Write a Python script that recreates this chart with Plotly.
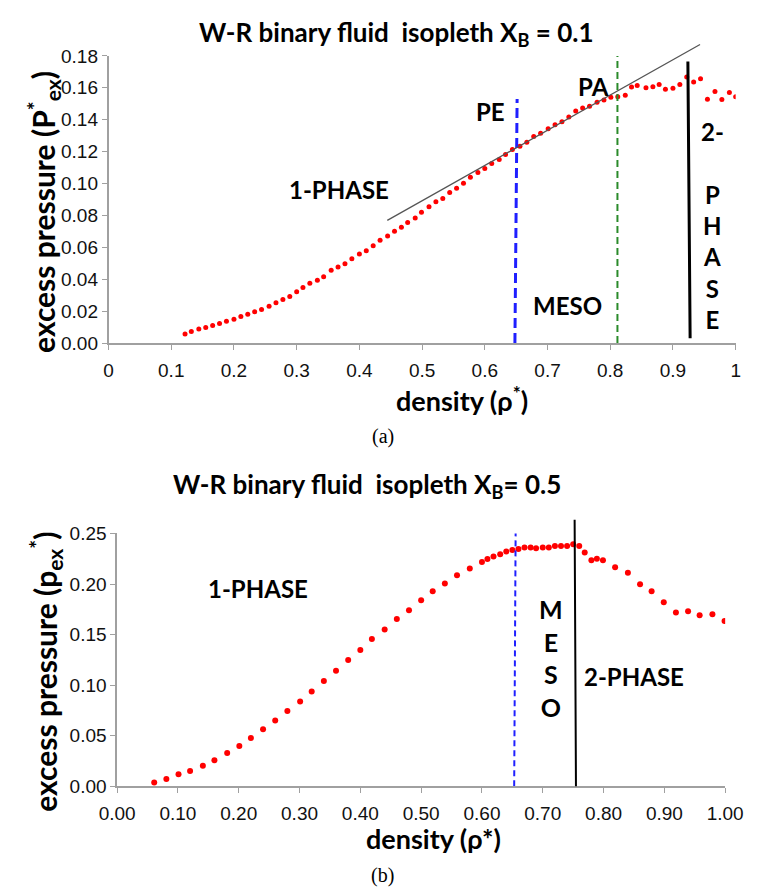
import plotly.graph_objects as go

# ---------------- data: panel (a) X_B = 0.1 ----------------
TOP_X = [0.122,0.132,0.144,0.155,0.166,0.177,0.188,0.200,0.211,0.222,
         0.233,0.244,0.256,0.267,0.278,0.289,0.300,0.310,0.321,0.333,
         0.343,0.355,0.366,0.377,0.388,0.400,0.411,0.422,0.433,0.445,
         0.456,0.467,0.477,0.489,0.499,0.511,0.522,0.533,0.544,0.555,
         0.566,0.577,0.589,0.600,0.611,0.623,0.633,0.644,0.656,0.667,
         0.678,0.689,0.701,0.712,0.723,0.734,0.745,0.756,0.767,0.779,
         0.790,0.801,0.812,0.824,0.834,0.843,0.857,0.868,0.878,0.888,
         0.900,0.911,0.922,0.933,0.944,0.955,0.967,0.978,0.990,1.000]
TOP_Y = [0.0057,0.0072,0.0088,0.0098,0.0109,0.0123,0.0137,0.0149,0.0166,0.0180,
         0.0196,0.0210,0.0231,0.0252,0.0272,0.0292,0.0321,0.0348,0.0374,0.0394,
         0.0415,0.0456,0.0477,0.0497,0.0528,0.0558,0.0579,0.0609,0.0644,0.0671,
         0.0701,0.0726,0.0756,0.0783,0.0820,0.0855,0.0885,0.0906,0.0943,0.0971,
         0.1002,0.1039,0.1069,0.1094,0.1125,0.1151,0.1182,0.1213,0.1233,0.1258,
         0.1294,0.1315,0.1344,0.1368,0.1387,0.1417,0.1454,0.1474,0.1485,0.1509,
         0.1523,0.1540,0.1544,0.1554,0.1605,0.1615,0.1601,0.1607,0.1621,0.1591,
         0.1597,0.1621,0.1667,0.1636,0.1656,0.1528,0.1577,0.1526,0.1570,0.1544]
TOP_FIT_X = [0.4445, 0.9456]
TOP_FIT_Y = [0.0769, 0.1877]
TOP_PE_X = [0.648, 0.6515]
TOP_PE_Y = [0.0, 0.153]
TOP_PA_X = [0.8115, 0.8115]
TOP_PA_Y = [0.0, 0.18]
TOP_2P_X = [0.9274, 0.9238]
TOP_2P_Y = [0.003, 0.1775]
TOP_XTICKS = [0, 0.1, 0.2, 0.3, 0.4, 0.5, 0.6, 0.7, 0.8, 0.9, 1]
TOP_YTICKS = [0, 0.02, 0.04, 0.06, 0.08, 0.10, 0.12, 0.14, 0.16, 0.18]

# ---------------- data: panel (b) X_B = 0.5 ----------------
BOT_X = [0.061,0.081,0.101,0.120,0.141,0.160,0.181,0.201,0.220,0.240,
         0.260,0.280,0.301,0.320,0.340,0.360,0.380,0.400,0.419,0.440,
         0.460,0.480,0.500,0.519,0.539,0.559,0.580,0.600,0.609,0.619,
         0.630,0.640,0.650,0.660,0.670,0.680,0.689,0.700,0.710,0.720,
         0.730,0.740,0.750,0.760,0.769,0.780,0.789,0.799,0.819,0.840,
         0.860,0.879,0.899,0.919,0.939,0.958,0.979,0.999]
BOT_Y = [0.0039,0.0074,0.0119,0.0152,0.0203,0.0258,0.0329,0.0400,0.0477,0.0564,
         0.0651,0.0745,0.0838,0.0938,0.1042,0.1144,0.1248,0.1347,0.1457,0.1550,
         0.1654,0.1741,0.1840,0.1928,0.2005,0.2086,0.2154,0.2218,0.2247,0.2273,
         0.2295,0.2321,0.2337,0.2347,0.2360,0.2360,0.2353,0.2360,0.2360,0.2376,
         0.2376,0.2376,0.2392,0.2376,0.2311,0.2234,0.2250,0.2234,0.2166,0.2111,
         0.1999,0.1928,0.1821,0.1718,0.1731,0.1692,0.1702,0.1634]
BOT_PE_X = [0.653, 0.6554]
BOT_PE_Y = [0.0, 0.2515]
BOT_2P_X = [0.7546, 0.7524]
BOT_2P_Y = [0.0, 0.265]
BOT_XTICKS = [0, 0.1, 0.2, 0.3, 0.4, 0.5, 0.6, 0.7, 0.8, 0.9, 1.0]
BOT_YTICKS = [0, 0.05, 0.10, 0.15, 0.20, 0.25]

W, H = 767, 896
LBL = "Lato"
TICKF = dict(family="Liberation Sans, Arial", size=19, color="#111")
AXC = "#a0a0a0"

def px_x(p):
    return p / W

def px_y(p):
    return 1 - p / H

fig = go.Figure()

# panel (a)
fig.add_trace(go.Scatter(x=TOP_X, y=TOP_Y, mode="markers", xaxis="x", yaxis="y",
                         marker=dict(color="#ff0000", size=5), showlegend=False))
fig.add_trace(go.Scatter(x=TOP_PE_X, y=TOP_PE_Y, mode="lines", xaxis="x", yaxis="y",
                         line=dict(color="#1f1fff", width=3, dash="10px,5px"), showlegend=False))
fig.add_trace(go.Scatter(x=TOP_PA_X, y=TOP_PA_Y, mode="lines", xaxis="x", yaxis="y",
                         line=dict(color="#2a8a2a", width=2, dash="7px,4px"), showlegend=False))

# panel (b)
fig.add_trace(go.Scatter(x=BOT_X, y=BOT_Y, mode="markers", xaxis="x2", yaxis="y2",
                         marker=dict(color="#ff0000", size=6), showlegend=False))
fig.add_trace(go.Scatter(x=BOT_PE_X, y=BOT_PE_Y, mode="lines", xaxis="x2", yaxis="y2",
                         line=dict(color="#2020ff", width=2, dash="6px,4px"), showlegend=False))

axis_common = dict(showgrid=False, zeroline=False, showline=True, linecolor=AXC, linewidth=1.5,
                   ticks="outside", ticklen=5, tickcolor=AXC, tickwidth=1, tickfont=TICKF)

fig.update_layout(
    width=W, height=H, margin=dict(l=0, r=0, t=0, b=0),
    paper_bgcolor="white", plot_bgcolor="white",
    xaxis=dict(domain=[px_x(95), px_x(753)], range=[0, 1], anchor="y",
               tickvals=TOP_XTICKS, ticktext=[f"{v:g}" for v in TOP_XTICKS],
               ticklabelstandoff=4, **axis_common),
    yaxis=dict(domain=[px_y(341), px_y(47)], range=[0, 0.18], anchor="x",
               tickvals=TOP_YTICKS, ticktext=[f"{v:.2f}" for v in TOP_YTICKS], **axis_common),
    xaxis2=dict(domain=[px_x(104), px_x(742)], range=[0, 1], anchor="y2",
                tickvals=BOT_XTICKS, ticktext=[f"{v:.2f}" for v in BOT_XTICKS],
                ticklabelstandoff=4, **axis_common),
    yaxis2=dict(domain=[px_y(795), px_y(536)], range=[0, 0.25], anchor="x2",
                tickvals=BOT_YTICKS, ticktext=[f"{v:.2f}" for v in BOT_YTICKS], **axis_common),
)

ann = []

def line_ann(xs, ys, xr, yr, color, width):
    ann.append(dict(x=xs[0], y=ys[0], ax=xs[1], ay=ys[1], xref=xr, yref=yr, axref=xr, ayref=yr,
                    text="", showarrow=True, arrowhead=0, arrowwidth=width, arrowcolor=color,
                    standoff=0, startstandoff=0))

line_ann(TOP_FIT_X, TOP_FIT_Y, "x", "y", "#555555", 1.3)
line_ann(TOP_2P_X, TOP_2P_Y, "x", "y", "#000000", 3)
line_ann(BOT_2P_X, BOT_2P_Y, "x2", "y2", "#000000", 2)

def txt(text, x, y, xr="paper", yr="paper", size=24, family=LBL, angle=0, color="#000"):
    ann.append(dict(text=text, x=x, y=y, xref=xr, yref=yr, showarrow=False,
                    xanchor="center", yanchor="middle", textangle=angle,
                    font=dict(family=family, size=size, color=color)))

# titles
txt("<b>W-R binary fluid  isopleth X<sub>B</sub> = 0.1</b>", px_x(397), px_y(24), size=26)
txt("<b>W-R binary fluid  isopleth X<sub>B</sub>= 0.5</b>", px_x(366), px_y(487), size=26)
# axis titles
txt("<b>density (ρ<sup>*</sup>)</b>", px_x(466), px_y(398), size=27)
txt("<b>density (ρ*)</b>", px_x(436), px_y(848), size=27)
txt("<b>excess pressure (P<sup>*</sup><sub>ex</sub>)</b>", px_x(27), px_y(207), size=30, angle=-90)
txt("<b>excess pressure (p<sub>ex</sub><sup>*</sup>)</b>", px_x(29), px_y(678), size=30, angle=-90)
# captions
txt("(a)", px_x(383), px_y(437), size=20, family="Liberation Serif, Times New Roman")
txt("(b)", px_x(382), px_y(886), size=20, family="Liberation Serif, Times New Roman")

# region labels, panel (a)
txt("<b>1-PHASE</b>", 0.367, 0.0963, "x", "y")
txt("<b>PE</b>", 0.609, 0.1454, "x", "y")
txt("<b>PA</b>", 0.773, 0.161, "x", "y")
txt("<b>MESO</b>", 0.7315, 0.0235, "x", "y")
txt("<b>2-</b>", 0.963, 0.1325, "x", "y")
txt("<b>P<br>H<br>A<br>S<br>E</b>", 0.963, 0.0537, "x", "y")
# region labels, panel (b)
txt("<b>1-PHASE</b>", 0.2314, 0.1957, "x2", "y2")
txt("<b>PE</b>", 0.602, 0.2553, "x2", "y2")
txt("<b>M<br>E<br>S<br>O</b>", 0.7133, 0.127, "x2", "y2", size=25)
txt("<b>2-PHASE</b>", 0.850, 0.1086, "x2", "y2")

fig.update_layout(annotations=ann)
fig.write_html("out.html")
